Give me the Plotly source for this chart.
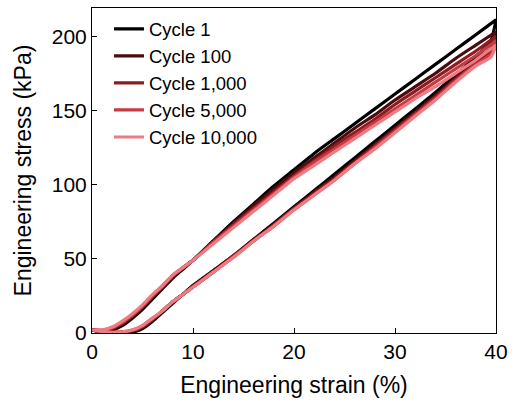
import plotly.graph_objects as go

load_strain = [0, 1, 2, 3, 4, 5, 6, 7, 8, 9, 10, 12, 14, 16, 18, 20, 22, 24, 26, 28, 30, 32, 34, 36, 38, 40]
unload_strain = [40, 39.5, 38, 36, 34, 32, 30, 28, 26, 24, 22, 20, 18, 16, 14, 12, 10, 9, 8, 7, 6, 5, 4, 3, 2, 1, 0]

cycle_names = ["Cycle 1", "Cycle 100", "Cycle 1,000", "Cycle 5,000", "Cycle 10,000"]
cycle_colors = ["#000000", "#4e0b0e", "#8a1c22", "#c63a44", "#ee7b82"]

load_c1 = [2, 1, 2, 5, 10, 16, 23, 30, 37, 43, 49, 62, 75, 87, 99, 110, 121, 131, 141, 151, 161, 171, 181, 191, 201, 211]
load_c100 = [2, 1.5, 3, 6, 11, 17, 24, 31, 38, 44, 49, 62, 74, 86, 97, 108, 118, 128, 138, 147, 157, 166, 175, 185, 194, 203]
load_c1000 = [2, 1.5, 3, 7, 12, 18, 25, 31, 38, 44, 49, 61, 73, 84, 95, 106, 116, 126, 135, 144, 154, 163, 172, 181, 190, 200]
load_c5000 = [2, 2, 3.5, 7, 12, 18, 25, 32, 39, 44, 49, 61, 72, 83, 94, 105, 115, 124, 133, 142, 151, 160, 169, 178, 187, 197]
load_c10000 = [2, 2, 4, 8, 13, 19, 26, 32, 39, 44, 49, 60, 71, 82, 93, 104, 113, 122, 131, 140, 149, 158, 166, 175, 184, 194]

unload_c1 = [211, 197, 186, 174, 162, 151, 140, 129, 118, 107, 96, 85, 74, 63, 52, 42, 32, 26, 20, 14, 8, 3, 0.5, 0, 0, 0.5, 2]
unload_c100 = [203, 192, 184, 172, 160, 149, 138, 127, 116, 105, 95, 84, 73, 63, 52, 42, 32, 26, 21, 15, 9, 4, 1, 0.5, 0.5, 1, 2]
unload_c1000 = [200, 190, 182, 171, 159, 148, 137, 126, 115, 104, 94, 84, 73, 62, 52, 41, 31, 26, 21, 15, 9, 4, 1.5, 0.5, 0.5, 1, 2]
unload_c5000 = [197, 188, 181, 170, 158, 147, 136, 125, 114, 103, 93, 83, 72, 62, 51, 41, 31, 26, 21, 15, 10, 5, 2, 0.8, 0.5, 1, 2]
unload_c10000 = [194, 186, 180, 169, 157, 146, 135, 124, 114, 103, 93, 83, 72, 62, 51, 41, 31, 26, 21, 15, 10, 5, 2, 0.8, 0.5, 1, 2]

loads = [load_c1, load_c100, load_c1000, load_c5000, load_c10000]
unloads = [unload_c1, unload_c100, unload_c1000, unload_c5000, unload_c10000]

x_ticks = [0, 10, 20, 30, 40]
y_ticks = [0, 50, 100, 150, 200]

fig = go.Figure()
for name, color, ld, ul in zip(cycle_names, cycle_colors, loads, unloads):
    fig.add_trace(go.Scatter(
        x=load_strain + unload_strain,
        y=ld + ul,
        mode="lines",
        name=name,
        line=dict(color=color, width=3.2, shape="spline", smoothing=0.6),
    ))

font_family = "Liberation Sans, Arial, Helvetica, sans-serif"
axis_common = dict(
    showline=True, linecolor="black", linewidth=1, mirror=True,
    ticks="inside", ticklen=5, tickcolor="black", tickwidth=1,
    showgrid=False, zeroline=False,
    tickfont=dict(size=21, color="black", family=font_family),
    title_font=dict(size=23, color="black", family=font_family),
)

fig.update_layout(
    width=515, height=409,
    margin=dict(l=92, r=16, t=7, b=76),
    paper_bgcolor="white", plot_bgcolor="white",
    font=dict(family=font_family, color="black"),
    xaxis=dict(range=[0, 40], tickvals=x_ticks, title=dict(text="Engineering strain (%)", standoff=14), **axis_common),
    yaxis=dict(range=[0, 219], tickvals=y_ticks, title=dict(text="Engineering stress (kPa)", standoff=13), **axis_common),
    legend=dict(x=0.042, y=0.993, xanchor="left", yanchor="top", bgcolor="rgba(0,0,0,0)",
                font=dict(size=18.5, color="black", family=font_family), tracegroupgap=0, itemwidth=30),
    showlegend=True,
)

fig.write_html("out.html")
